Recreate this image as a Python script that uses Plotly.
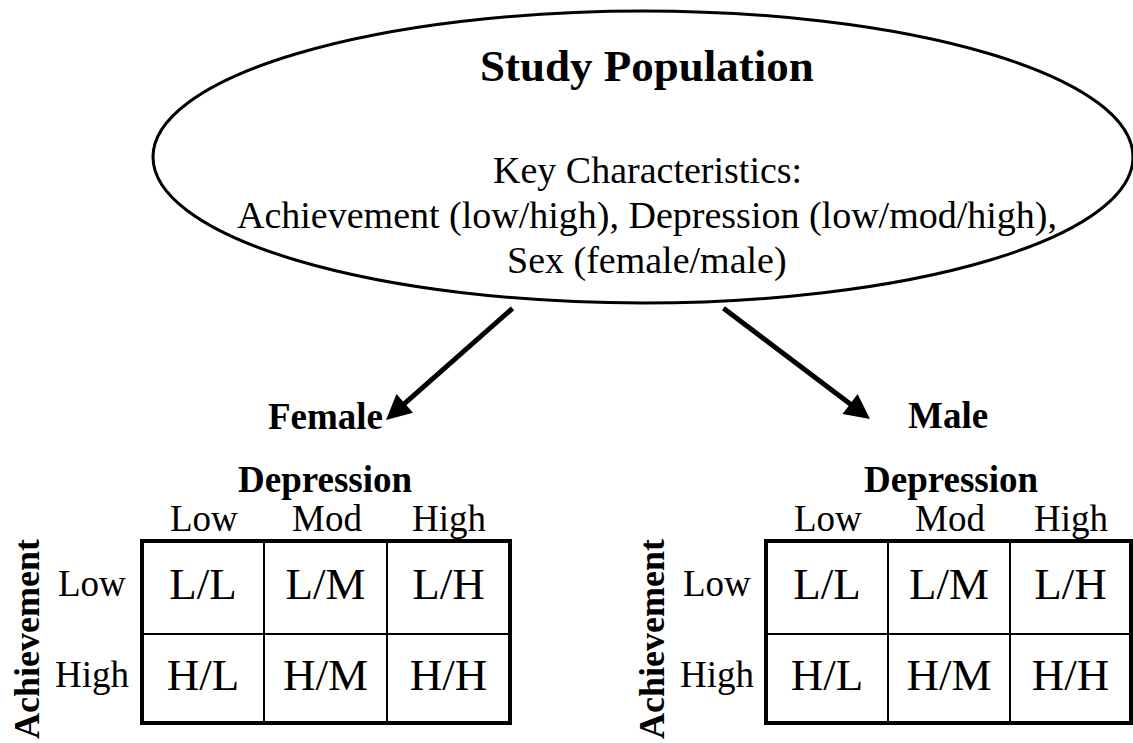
import plotly.graph_objects as go

# diagram content
title = "Study Population"
characteristics = [
    "Key Characteristics:",
    "Achievement (low/high), Depression (low/mod/high),",
    "Sex (female/male)",
]
sexes = ["Female", "Male"]
depression_levels = ["Low", "Mod", "High"]
achievement_levels = ["Low", "High"]
row_title = "Achievement"
col_title = "Depression"

FONT = "Liberation Serif, Times New Roman, serif"
W, H = 1133, 743

fig = go.Figure()
shapes, ann = [], []


def text(x, y, s, size, bold=False, angle=0):
    ann.append(dict(x=x, y=y, xref="x", yref="y", text=f"<b>{s}</b>" if bold else s,
                    showarrow=False, textangle=angle, xanchor="center", yanchor="middle",
                    font=dict(family=FONT, size=size, color="black")))


# population ellipse
shapes.append(dict(type="circle", xref="x", yref="y", x0=153, x1=1133, y0=11, y1=303,
                   line=dict(color="black", width=3)))
text(647, 66, title, 45, bold=True)
for i, line in enumerate(characteristics):
    text(647, 170 + 45 * i, line, 38)

# arrows to each sex
arrows = [((514, 307), (386, 420)), ((722, 307), (870, 419))]
for (tx, ty), (hx, hy) in arrows:
    ann.append(dict(x=hx, y=hy, ax=tx, ay=ty, xref="x", yref="y", axref="x", ayref="y",
                    text="", showarrow=True, arrowhead=2, arrowsize=1.0, arrowwidth=5,
                    arrowcolor="black", standoff=0, startstandoff=0))

# two 2x3 tables
tables = [
    dict(sex_xy=(325, 416), x0=142, x1=510, vlines=(264, 387), dep_x=325, lab_x=92, ach_x=27),
    dict(sex_xy=(948, 415), x0=766, x1=1131, vlines=(888, 1010), dep_x=951, lab_x=717, ach_x=652),
]
y0, ymid, y1 = 541, 634, 723
for sex, t in zip(sexes, tables):
    text(t["sex_xy"][0], t["sex_xy"][1], sex, 37, bold=True)
    text(t["dep_x"], 479, col_title, 37, bold=True)
    text(t["ach_x"], 639, row_title, 36, bold=True, angle=-90)
    xs = [t["x0"], *t["vlines"], t["x1"]]
    col_c = [(xs[i] + xs[i + 1]) / 2 for i in range(3)]
    row_c = [(y0 + ymid) / 2, (ymid + y1) / 2]
    for cx, lev in zip(col_c, depression_levels):
        text(cx + 1, 518, lev, 37)
    for cy, lev in zip(row_c, achievement_levels):
        text(t["lab_x"], cy - 4, lev, 37)
    # grid lines
    for vx in t["vlines"]:
        shapes.append(dict(type="line", xref="x", yref="y", x0=vx, x1=vx, y0=y0, y1=y1,
                           line=dict(color="black", width=2)))
    shapes.append(dict(type="line", xref="x", yref="y", x0=t["x0"], x1=t["x1"], y0=ymid, y1=ymid,
                       line=dict(color="black", width=2)))
    shapes.append(dict(type="rect", xref="x", yref="y", x0=t["x0"], x1=t["x1"], y0=y0, y1=y1,
                       line=dict(color="black", width=4)))
    cx_list, cy_list, labels = [], [], []
    for cy, a in zip(row_c, achievement_levels):
        for cx, d in zip(col_c, depression_levels):
            cx_list.append(cx)
            cy_list.append(cy)
            labels.append(f"{a[0]}/{d[0]}")
    fig.add_trace(go.Scatter(x=cx_list, y=cy_list, mode="text", text=labels,
                             textposition="middle center", hoverinfo="skip", showlegend=False,
                             textfont=dict(family=FONT, size=45, color="black")))

fig.update_layout(
    width=W, height=H, margin=dict(l=0, r=0, t=0, b=0),
    paper_bgcolor="white", plot_bgcolor="white",
    xaxis=dict(range=[0, W], visible=False, fixedrange=True),
    yaxis=dict(range=[H, 0], visible=False, fixedrange=True),
    shapes=shapes, annotations=ann, showlegend=False,
)
# drop the page's default 8px body margin so the figure sits at the window corner
fig.write_html("out.html", config={"displayModeBar": False},
               post_script="document.body.style.margin='0';document.body.style.overflow='hidden';")
